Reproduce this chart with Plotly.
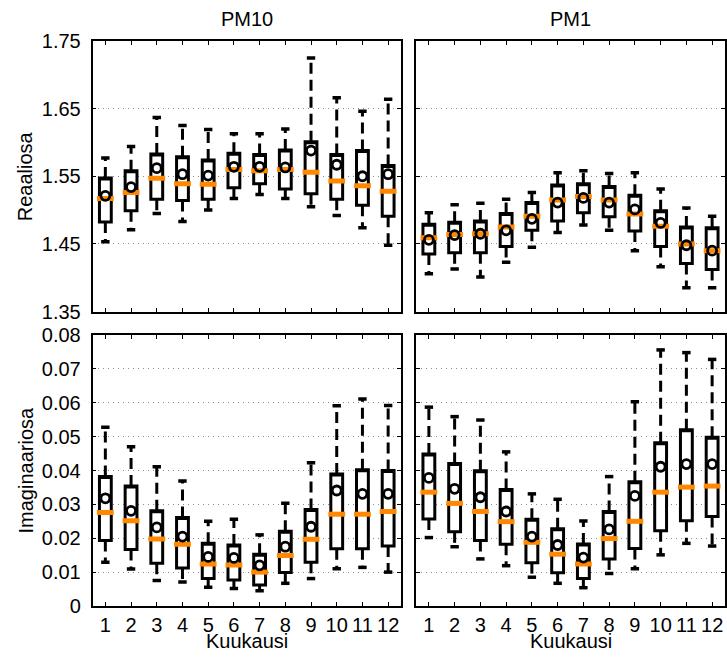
import plotly.graph_objects as go

months = list(range(1, 12 + 1))
month_labels = [str(m) for m in months]

# PM10 real part
pm10_re_low = [1.453, 1.471, 1.495, 1.483, 1.500, 1.517, 1.523, 1.517, 1.505, 1.492, 1.474, 1.448]
pm10_re_q1 = [1.4825, 1.499, 1.516, 1.514, 1.516, 1.533, 1.539, 1.531, 1.524, 1.516, 1.507, 1.491]
pm10_re_med = [1.517, 1.526, 1.547, 1.539, 1.538, 1.560, 1.558, 1.560, 1.556, 1.543, 1.536, 1.528]
pm10_re_q3 = [1.5475, 1.558, 1.583, 1.579, 1.574, 1.584, 1.582, 1.589, 1.601, 1.582, 1.588, 1.566]
pm10_re_high = [1.577, 1.594, 1.637, 1.625, 1.619, 1.613, 1.613, 1.620, 1.725, 1.666, 1.646, 1.664]
pm10_re_mean = [1.521, 1.534, 1.562, 1.553, 1.551, 1.564, 1.564, 1.563, 1.588, 1.567, 1.550, 1.553]

# PM1 real part
pm1_re_low = [1.406, 1.413, 1.401, 1.423, 1.445, 1.467, 1.478, 1.470, 1.440, 1.416, 1.385, 1.385]
pm1_re_q1 = [1.435, 1.437, 1.437, 1.446, 1.470, 1.484, 1.496, 1.490, 1.469, 1.446, 1.421, 1.412]
pm1_re_med = [1.459, 1.464, 1.465, 1.475, 1.491, 1.515, 1.520, 1.515, 1.494, 1.476, 1.450, 1.440]
pm1_re_q3 = [1.479, 1.482, 1.484, 1.495, 1.511, 1.537, 1.539, 1.535, 1.522, 1.499, 1.475, 1.474]
pm1_re_high = [1.496, 1.508, 1.510, 1.516, 1.526, 1.555, 1.558, 1.554, 1.555, 1.531, 1.503, 1.491]
pm1_re_mean = [1.456, 1.463, 1.465, 1.470, 1.487, 1.511, 1.518, 1.511, 1.501, 1.481, 1.448, 1.440]

# PM10 imaginary part
pm10_im_low = [0.0129, 0.0109, 0.0075, 0.0071, 0.0055, 0.0052, 0.0045, 0.0067, 0.0081, 0.0110, 0.0114, 0.0100]
pm10_im_q1 = [0.0193, 0.0167, 0.0126, 0.0112, 0.0081, 0.0077, 0.0062, 0.0099, 0.0129, 0.0169, 0.0169, 0.0177]
pm10_im_med = [0.0276, 0.0252, 0.0198, 0.0182, 0.0124, 0.0121, 0.0100, 0.0149, 0.0197, 0.0271, 0.0271, 0.0279]
pm10_im_q3 = [0.0382, 0.0354, 0.0281, 0.0261, 0.0185, 0.0180, 0.0153, 0.0221, 0.0285, 0.0390, 0.0402, 0.0400]
pm10_im_high = [0.0528, 0.0470, 0.0411, 0.0369, 0.0250, 0.0256, 0.0210, 0.0303, 0.0423, 0.0591, 0.0611, 0.0592]
pm10_im_mean = [0.0318, 0.0281, 0.0232, 0.0205, 0.0145, 0.0142, 0.0120, 0.0175, 0.0234, 0.0341, 0.0331, 0.0331]

# PM1 imaginary part
pm1_im_low = [0.0202, 0.0175, 0.0139, 0.0119, 0.0085, 0.0067, 0.0054, 0.0096, 0.0110, 0.0151, 0.0185, 0.0177]
pm1_im_q1 = [0.0257, 0.0219, 0.0193, 0.0182, 0.0128, 0.0098, 0.0081, 0.0139, 0.0170, 0.0222, 0.0252, 0.0264]
pm1_im_med = [0.0336, 0.0303, 0.0279, 0.0249, 0.0188, 0.0153, 0.0124, 0.0199, 0.0250, 0.0336, 0.0351, 0.0354]
pm1_im_q3 = [0.0449, 0.0421, 0.0399, 0.0344, 0.0256, 0.0228, 0.0183, 0.0279, 0.0367, 0.0482, 0.0520, 0.0498]
pm1_im_high = [0.0587, 0.0559, 0.0549, 0.0455, 0.0331, 0.0315, 0.0251, 0.0382, 0.0603, 0.0756, 0.0748, 0.0728]
pm1_im_mean = [0.0378, 0.0346, 0.0321, 0.0279, 0.0205, 0.0180, 0.0143, 0.0226, 0.0325, 0.0411, 0.0419, 0.0419]

re_ticks = [1.35, 1.45, 1.55, 1.65, 1.75]
re_ticktext = ["1.35", "1.45", "1.55", "1.65", "1.75"]
im_ticks = [0, 0.01, 0.02, 0.03, 0.04, 0.05, 0.06, 0.07, 0.08]
im_ticktext = ["0", "0.01", "0.02", "0.03", "0.04", "0.05", "0.06", "0.07", "0.08"]

panels = [
    ("x", "y", pm10_re_low, pm10_re_q1, pm10_re_med, pm10_re_q3, pm10_re_high, pm10_re_mean),
    ("x2", "y2", pm1_re_low, pm1_re_q1, pm1_re_med, pm1_re_q3, pm1_re_high, pm1_re_mean),
    ("x3", "y3", pm10_im_low, pm10_im_q1, pm10_im_med, pm10_im_q3, pm10_im_high, pm10_im_mean),
    ("x4", "y4", pm1_im_low, pm1_im_q1, pm1_im_med, pm1_im_q3, pm1_im_high, pm1_im_mean),
]

ORANGE = "#ff8800"
FONT = "Liberation Sans, Arial, sans-serif"

fig = go.Figure()
for xa, ya, low, q1, med, q3, high, mean in panels:
    # whiskers (dashed)
    wx, wy = [], []
    for m, a, b in zip(months, q3, high):
        wx += [m, m, None]
        wy += [a, b, None]
    for m, a, b in zip(months, q1, low):
        wx += [m, m, None]
        wy += [a, b, None]
    fig.add_trace(go.Scatter(x=wx, y=wy, mode="lines", xaxis=xa, yaxis=ya,
                             line=dict(color="black", width=3, dash="11px,6px"),
                             hoverinfo="skip", showlegend=False))
    # whisker caps
    fig.add_trace(go.Scatter(x=months + months, y=high + low, mode="markers", xaxis=xa, yaxis=ya,
                             marker=dict(symbol="line-ew", size=6, color="black",
                                         line=dict(color="black", width=3.5)),
                             hoverinfo="skip", showlegend=False))
    # boxes
    fig.add_trace(go.Box(x=months, q1=q1, median=q3, q3=q3, lowerfence=q1, upperfence=q3,
                         xaxis=xa, yaxis=ya, width=0.46, whiskerwidth=0,
                         fillcolor="white", line=dict(color="black", width=3),
                         hoverinfo="skip", showlegend=False, boxpoints=False))
    # medians
    fig.add_trace(go.Scatter(x=months, y=med, mode="markers", xaxis=xa, yaxis=ya,
                             marker=dict(symbol="line-ew", size=12, color=ORANGE,
                                         line=dict(color=ORANGE, width=5)),
                             hoverinfo="skip", showlegend=False))
    # means
    fig.add_trace(go.Scatter(x=months, y=mean, mode="markers", xaxis=xa, yaxis=ya,
                             marker=dict(symbol="circle-open", size=9, color="black",
                                         line=dict(color="black", width=2.8)),
                             hoverinfo="skip", showlegend=False))

W, H = 727, 657
xl = [92.5 / W, 401 / W]
xr = [416 / W, 725 / W]
yt = [1 - 311.5 / H, 1 - 41 / H]
yb = [1 - 606 / H, 1 - 335 / H]

xcommon = dict(range=[0.5, 12.5], tickvals=months, ticktext=month_labels,
               showline=True, linecolor="black", linewidth=1.5, mirror="ticks",
               ticks="inside", ticklen=4, tickcolor="black", tickwidth=1,
               showgrid=False, zeroline=False, automargin=False,
               tickfont=dict(family=FONT, size=20, color="black"))
ycommon = dict(showline=True, linecolor="black", linewidth=1.5, mirror="ticks",
               ticks="inside", ticklen=4, tickcolor="black", tickwidth=1,
               showgrid=True, gridcolor="#8a8a8a", griddash="1px,4px", gridwidth=1,
               zeroline=False, automargin=False,
               tickfont=dict(family=FONT, size=20, color="black"),
               ticklabelstandoff=6)

fig.update_layout(
    width=W, height=H, margin=dict(l=0, r=0, t=0, b=0, autoexpand=False),
    paper_bgcolor="white", plot_bgcolor="white", showlegend=False,
    xaxis=dict(domain=xl, anchor="y", showticklabels=False, **xcommon),
    xaxis2=dict(domain=xr, anchor="y2", showticklabels=False, **xcommon),
    xaxis3=dict(domain=xl, anchor="y3", **xcommon),
    xaxis4=dict(domain=xr, anchor="y4", **xcommon),
    yaxis=dict(domain=yt, anchor="x", range=[1.35, 1.75], tickvals=re_ticks, ticktext=re_ticktext, **ycommon),
    yaxis2=dict(domain=yt, anchor="x2", range=[1.35, 1.75], tickvals=re_ticks, showticklabels=False, **ycommon),
    yaxis3=dict(domain=yb, anchor="x3", range=[0, 0.08], tickvals=im_ticks, ticktext=im_ticktext, **ycommon),
    yaxis4=dict(domain=yb, anchor="x4", range=[0, 0.08], tickvals=im_ticks, showticklabels=False, **ycommon),
    boxgap=0,
)

ann_font = dict(family=FONT, size=20, color="black")
anns = [
    dict(text="PM10", x=(xl[0] + xl[1]) / 2, y=1 - 19 / H),
    dict(text="PM1", x=(xr[0] + xr[1]) / 2, y=1 - 19 / H),
    dict(text="Kuukausi", x=(xl[0] + xl[1]) / 2, y=1 - 641 / H),
    dict(text="Kuukausi", x=(xr[0] + xr[1]) / 2, y=1 - 641 / H),
    dict(text="Reaaliosa", x=25 / W, y=(yt[0] + yt[1]) / 2, textangle=-90),
    dict(text="Imaginaariosa", x=25 / W, y=(yb[0] + yb[1]) / 2, textangle=-90),
]
for a in anns:
    fig.add_annotation(xref="paper", yref="paper", showarrow=False, xanchor="center",
                       yanchor="middle", font=ann_font, **a)

fig.write_html("out.html", config={"displayModeBar": False},
               post_script="document.body.style.margin='0';")
